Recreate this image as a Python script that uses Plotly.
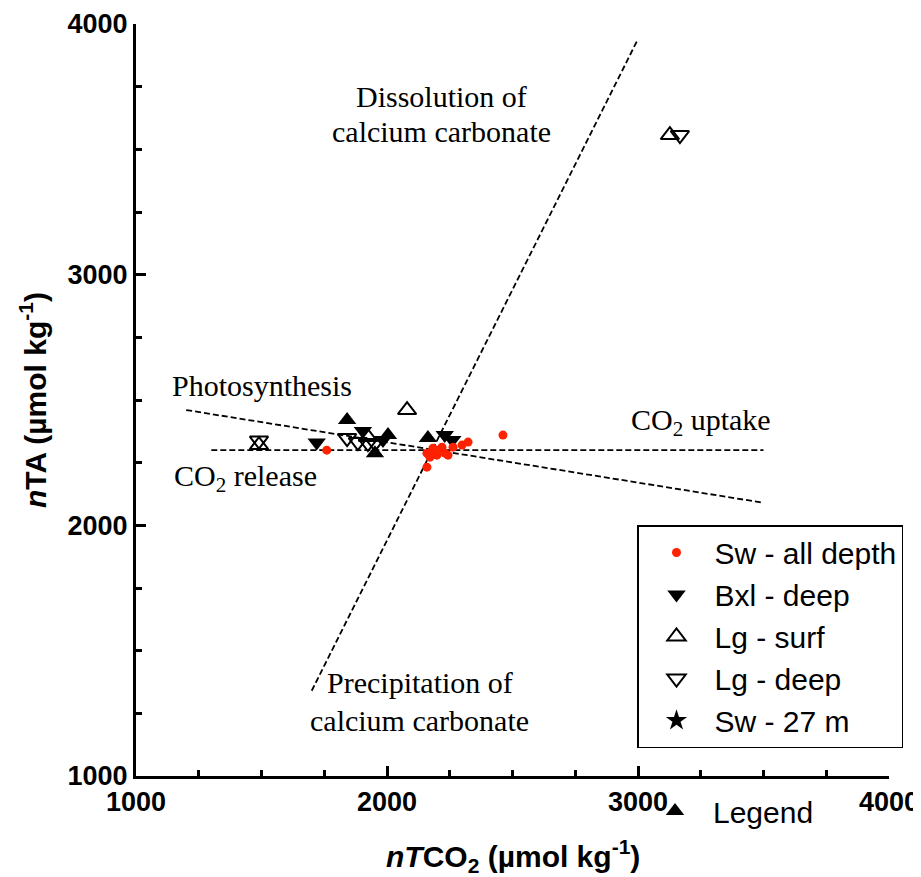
import plotly.graph_objects as go

# ---------------- data ----------------
sw_all_x = [1760, 2159, 2171, 2179, 2183, 2199, 2203, 2219, 2231, 2243, 2263, 2299, 2323, 2159, 2462]
sw_all_y = [2300, 2288, 2272, 2292, 2308, 2280, 2300, 2312, 2288, 2280, 2312, 2320, 2332, 2232, 2360]

bxl_deep_x = [1720, 1904, 1984, 2230, 2260]
bxl_deep_y = [2330, 2376, 2340, 2360, 2340]

lg_surf_x = [1490, 1924, 2080, 3127]
lg_surf_y = [2320, 2352, 2460, 3557]

lg_deep_x = [1490, 1841, 1884, 1924, 1952, 3167]
lg_deep_y = [2338, 2348, 2332, 2328, 2328, 3557]

legend_x = [1841, 1952, 2004, 2163]
legend_y = [2420, 2288, 2360, 2348]

sw27_x = [None]
sw27_y = [None]

# reference lines
co2_x = [1300, 3500]
co2_y = [2300, 2300]
photo_x = [1200, 3500]
photo_y = [2460, 2090]
caco3_x = [1700, 3000]
caco3_y = [1340, 3940]

x_ticks = [1000, 2000, 3000, 4000]
y_ticks = [1000, 2000, 3000, 4000]

SERIF = "Liberation Serif, Times New Roman, serif"
SANS = "Liberation Sans, Arial, sans-serif"

# page body has an 8px default margin, so the figure is sized to fit inside it
W, H = 913, 869

fig = go.Figure()

dash = dict(color="black", width=1.8, dash="6px,3px")
for lx, ly in [(co2_x, co2_y), (photo_x, photo_y), (caco3_x, caco3_y)]:
    fig.add_trace(go.Scatter(x=lx, y=ly, mode="lines", line=dash,
                             showlegend=False, hoverinfo="skip"))

fig.add_trace(go.Scatter(x=legend_x, y=legend_y, mode="markers", name="Legend",
                         marker=dict(symbol="triangle-up", size=16, color="black"),
                         legend="legend2"))
fig.add_trace(go.Scatter(x=bxl_deep_x, y=bxl_deep_y, mode="markers", name="Bxl - deep",
                         marker=dict(symbol="triangle-down", size=16, color="black"),
                         legendgroup="b", legendrank=2))
fig.add_trace(go.Scatter(x=lg_surf_x, y=lg_surf_y, mode="markers", name="Lg - surf",
                         marker=dict(symbol="triangle-up-open", size=16, color="black",
                                     line=dict(width=2, color="black")),
                         legendgroup="c", legendrank=3))
fig.add_trace(go.Scatter(x=lg_deep_x, y=lg_deep_y, mode="markers", name="Lg - deep",
                         marker=dict(symbol="triangle-down-open", size=16, color="black",
                                     line=dict(width=2, color="black")),
                         legendgroup="d", legendrank=4))
fig.add_trace(go.Scatter(x=sw_all_x, y=sw_all_y, mode="markers", name="Sw - all depth",
                         marker=dict(symbol="circle", size=9, color="#ff2200"),
                         legendgroup="a", legendrank=1))
fig.add_trace(go.Scatter(x=sw27_x, y=sw27_y, mode="markers", name="Sw - 27 m",
                         marker=dict(symbol="star", size=16, color="black"),
                         legendgroup="e", legendrank=5))

ann_font = dict(family=SERIF, size=30, color="black")
texts = [
    ("Dissolution of", 2219, 3712),
    ("calcium carbonate", 2219, 3573),
    ("Photosynthesis", 1502, 2556),
    ("CO<sub>2</sub> release", 1438, 2189),
    ("CO<sub>2</sub> uptake", 3251, 2412),
    ("Precipitation of", 2131, 1375),
    ("calcium carbonate", 2131, 1223),
]
for t, ax_, ay_ in texts:
    fig.add_annotation(x=ax_, y=ay_, xref="x", yref="y", text=t, showarrow=False,
                       font=ann_font, xanchor="center", yanchor="middle")

# axis titles
fig.add_annotation(x=0.5, y=0, xref="paper", yref="paper", yshift=-80,
                   text="<b><i>n</i><i>T</i>CO<sub>2</sub> (µmol kg<sup>-1</sup>)</b>",
                   showarrow=False, xanchor="center", yanchor="middle",
                   font=dict(family=SANS, size=30, color="black"))
fig.add_annotation(x=0, y=0.5, xref="paper", yref="paper", xshift=-103,
                   text="<b><i>n</i>TA (µmol kg<sup>-1</sup>)</b>", textangle=-90,
                   showarrow=False, xanchor="center", yanchor="middle",
                   font=dict(family="Liberation Sans Narrow, " + SANS, size=30, color="black"))

axis_common = dict(
    showline=True, linewidth=3, linecolor="black",
    ticks="inside", ticklen=10, tickwidth=3, tickcolor="black",
    showgrid=False, zeroline=False, automargin=False,
    tickfont=dict(family=SANS, size=27, color="black", weight="bold"),
    minor=dict(dtick=250, ticks="inside", ticklen=6, tickwidth=2.5,
               tickcolor="black", showgrid=False),
)
fig.update_xaxes(range=[1000, 4000], tickvals=x_ticks, ticktext=[str(v) for v in x_ticks],
                 **axis_common)
fig.update_yaxes(range=[1000, 4000], tickvals=y_ticks, ticktext=[str(v) for v in y_ticks],
                 **axis_common)

fig.update_layout(
    width=W, height=H,
    margin=dict(l=128, r=32, t=16, b=101, autoexpand=False),
    plot_bgcolor="white", paper_bgcolor="white",
    showlegend=True,
    legend=dict(x=629 / W, y=(H - 517) / H, xref="container", yref="container",
                xanchor="left", yanchor="top",
                bordercolor="black", borderwidth=1.5, bgcolor="white",
                font=dict(family=SANS, size=30, color="black"),
                traceorder="grouped", tracegroupgap=0, itemwidth=66),
    legend2=dict(x=629 / W, y=(H - 777) / H, xref="container", yref="container",
                 xanchor="left", yanchor="top",
                 borderwidth=0, bgcolor="rgba(0,0,0,0)",
                 font=dict(family=SANS, size=30, color="black"), itemwidth=66),
)

fig.write_html("out.html")
